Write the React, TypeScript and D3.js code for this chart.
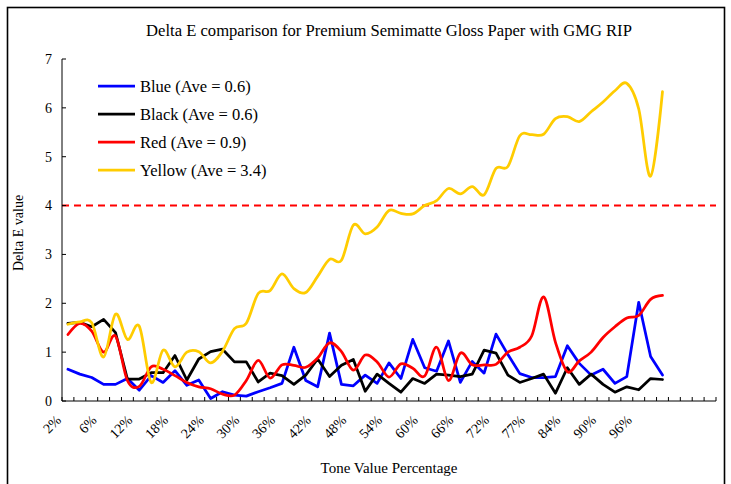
import React from "react";
import * as d3 from "d3";

const titleText = "Delta E comparison for Premium Semimatte Gloss Paper with GMG RIP";
const xTitle = "Tone Value Percentage";
const yTitle = "Delta E value";

const toneLabels = ["2%", "6%", "12%", "18%", "24%", "30%", "36%", "42%", "48%", "54%", "60%", "66%", "72%", "77%", "84%", "90%", "96%"];
const categoryCount = 55;
const labelStep = 3;
const yTicks = [0, 1, 2, 3, 4, 5, 6, 7];
const threshold = 4;

const seriesNames = ["Blue (Ave = 0.6)", "Black (Ave = 0.6)", "Red (Ave = 0.9)", "Yellow (Ave = 3.4)"];
const seriesColors = ["#0000FF", "#000000", "#FF0000", "#FFCC00"];
const seriesSmooth = [false, false, true, true];

const blue = [0.65, 0.55, 0.48, 0.34, 0.34, 0.46, 0.22, 0.52, 0.38, 0.62, 0.32, 0.43, 0.05, 0.19, 0.12, 0.10, 0.19, 0.27, 0.36, 1.10, 0.42, 0.29, 1.39, 0.34, 0.31, 0.53, 0.36, 0.78, 0.46, 1.26, 0.68, 0.61, 1.23, 0.38, 0.81, 0.57, 1.37, 0.95, 0.56, 0.48, 0.48, 0.50, 1.13, 0.77, 0.53, 0.65, 0.36, 0.50, 2.02, 0.91, 0.53];
const black = [1.59, 1.61, 1.52, 1.67, 1.40, 0.45, 0.45, 0.58, 0.58, 0.93, 0.43, 0.86, 1.01, 1.06, 0.80, 0.80, 0.39, 0.57, 0.52, 0.34, 0.53, 0.86, 0.50, 0.73, 0.85, 0.20, 0.55, 0.36, 0.18, 0.46, 0.36, 0.55, 0.53, 0.50, 0.55, 1.04, 0.98, 0.53, 0.38, 0.46, 0.55, 0.16, 0.68, 0.34, 0.55, 0.34, 0.18, 0.29, 0.23, 0.46, 0.44];
const red = [1.36, 1.59, 1.43, 1.00, 1.33, 0.42, 0.30, 0.70, 0.65, 0.52, 0.38, 0.29, 0.25, 0.14, 0.12, 0.42, 0.83, 0.47, 0.74, 0.73, 0.69, 0.88, 1.19, 1.01, 0.63, 0.94, 0.80, 0.49, 0.76, 0.67, 0.51, 1.10, 0.42, 0.98, 0.74, 0.74, 0.75, 1.00, 1.10, 1.33, 2.13, 1.20, 0.60, 0.82, 1.00, 1.30, 1.52, 1.70, 1.75, 2.08, 2.16];
const yellow = [1.57, 1.62, 1.60, 0.90, 1.78, 1.26, 1.53, 0.38, 1.04, 0.70, 1.00, 1.01, 0.78, 1.02, 1.48, 1.59, 2.20, 2.26, 2.60, 2.30, 2.22, 2.55, 2.90, 2.88, 3.60, 3.42, 3.56, 3.90, 3.84, 3.83, 4.00, 4.10, 4.35, 4.24, 4.39, 4.22, 4.76, 4.80, 5.43, 5.45, 5.46, 5.78, 5.82, 5.72, 5.92, 6.12, 6.35, 6.50, 5.98, 4.60, 6.33];

const seriesValues = [blue, black, red, yellow];

const W = 731;
const H = 484;
const plot = { left: 62, right: 716, top: 59, bottom: 401 };
const FONT = "'Liberation Serif', 'Times New Roman', serif";

export default function App() {
  const x = d3.scaleBand<number>().domain(d3.range(categoryCount)).range([plot.left, plot.right]).paddingInner(0).paddingOuter(0);
  const y = d3.scaleLinear().domain([0, 7]).range([plot.bottom, plot.top]);
  const cx = (i: number) => (x(i) as number) + x.bandwidth() / 2;

  const labelX = d3.scalePoint<string>().domain(toneLabels).range([cx(0), cx((toneLabels.length - 1) * labelStep)]);

  const tickPositions = d3.range(categoryCount + 1).map((i) => plot.left + i * x.bandwidth());

  const lines = seriesValues.map((vals, s) => {
    const gen = d3
      .line<number>()
      .x((_, i) => cx(i))
      .y((d) => y(d))
      .curve(seriesSmooth[s] ? d3.curveCatmullRom.alpha(0) : d3.curveLinear);
    return gen(vals) || "";
  });

  const legendY = d3.scalePoint<string>().domain(seriesNames).range([86, 170]);

  return (
    <svg width={W} height={H} style={{ position: "absolute", left: 0, top: 0, background: "#fff" }} fontFamily={FONT}>
      <rect x={0} y={0} width={W} height={H} fill="#fff" />
      <rect x={7.5} y={7.5} width={717} height={500} fill="none" stroke="#000" strokeWidth={1.6} />
      <text x={389} y={36} textAnchor="middle" fontSize={16.6} fill="#000">
        {titleText}
      </text>

      {/* threshold line */}
      <line x1={plot.left} x2={plot.right} y1={y(threshold)} y2={y(threshold)} stroke="#FF0000" strokeWidth={2} strokeDasharray="7 5" />

      {/* series */}
      {lines.map((d, s) => (
        <path key={s} d={d} fill="none" stroke={seriesColors[s]} strokeWidth={2.75} strokeLinejoin="round" strokeLinecap="round" />
      ))}

      {/* axes */}
      <line x1={plot.left} x2={plot.left} y1={plot.top} y2={plot.bottom} stroke="#000" strokeWidth={1} />
      <line x1={plot.left} x2={plot.right} y1={plot.bottom} y2={plot.bottom} stroke="#000" strokeWidth={1} />
      {yTicks.map((t) => (
        <g key={t}>
          <line x1={plot.left} x2={plot.left + 4} y1={y(t)} y2={y(t)} stroke="#000" strokeWidth={1} />
          <text x={52} y={y(t)} dy="0.35em" textAnchor="end" fontSize={14} fill="#000">
            {t}
          </text>
        </g>
      ))}
      {tickPositions.map((p, i) => (
        <line key={i} x1={p} x2={p} y1={plot.bottom} y2={plot.bottom - 4} stroke="#000" strokeWidth={1} />
      ))}
      {toneLabels.map((l) => {
        const lx = (labelX(l) as number) - 6;
        const ly = 421;
        return (
          <text key={l} x={lx} y={ly} transform={`rotate(-45 ${lx} ${ly})`} textAnchor="end" fontSize={14} fill="#000">
            {l}
          </text>
        );
      })}

      <text x={389} y={473} textAnchor="middle" fontSize={15} fill="#000">
        {xTitle}
      </text>
      <text x={23} y={233} transform="rotate(-90 23 233)" textAnchor="middle" fontSize={14} fill="#000">
        {yTitle}
      </text>

      {/* legend */}
      {seriesNames.map((n, s) => {
        const ly = legendY(n) as number;
        return (
          <g key={n}>
            <line x1={98} x2={135} y1={ly} y2={ly} stroke={seriesColors[s]} strokeWidth={2.75} />
            <text x={140} y={ly} dy="0.35em" fontSize={16.5} fill="#000">
              {n}
            </text>
          </g>
        );
      })}
    </svg>
  );
}
